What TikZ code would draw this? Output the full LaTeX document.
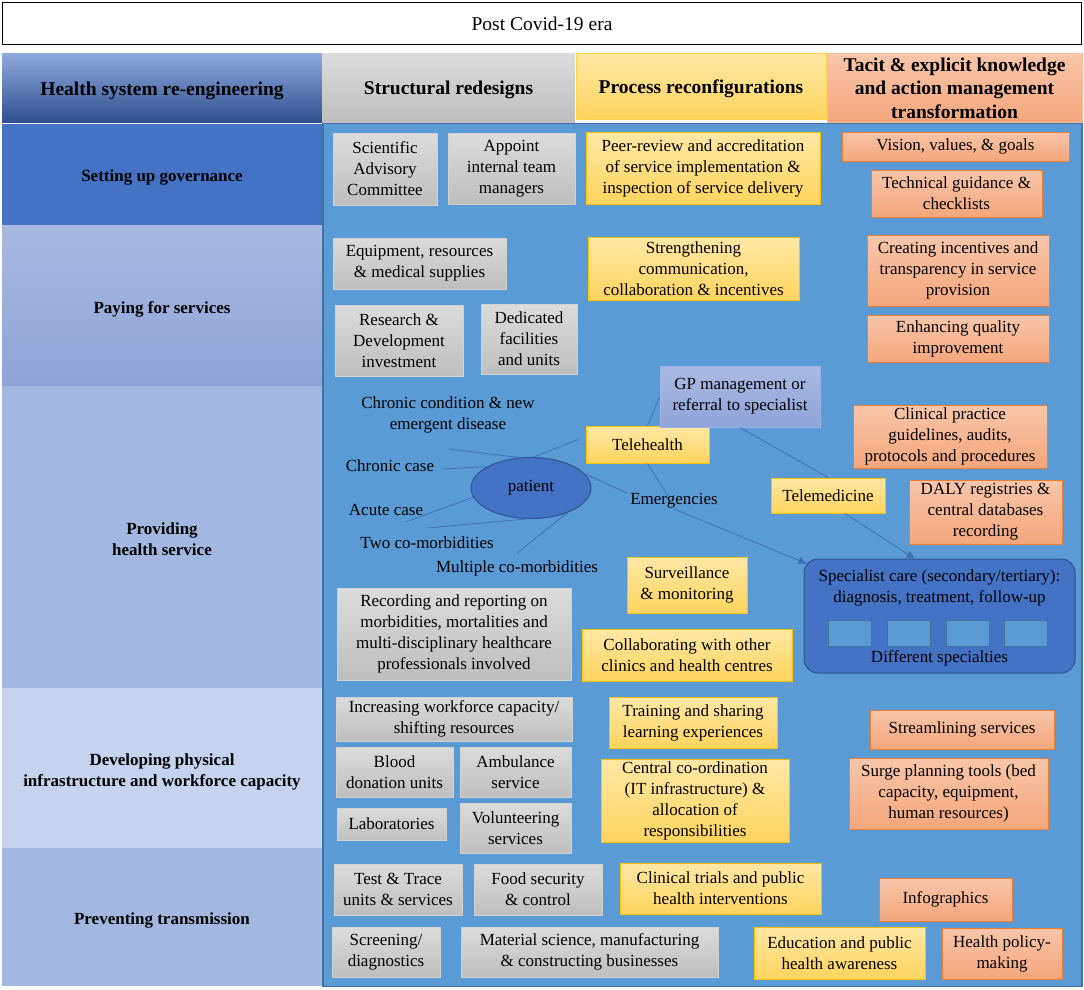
\documentclass[tikz,border=0pt]{standalone}
\usepackage{fontspec}
\setmainfont{Liberation Serif}
\usetikzlibrary{arrows.meta,shapes.geometric}
\definecolor{mainblue}{HTML}{5B9BD5}
\definecolor{maindark}{HTML}{41719C}
\definecolor{midblue}{HTML}{4472C4}
\definecolor{darkblue}{HTML}{2F528F}
\definecolor{graytop}{HTML}{DCDCDC}
\definecolor{graybot}{HTML}{BEBEBE}
\definecolor{grayedge}{HTML}{D2D2D2}
\definecolor{ytop}{HTML}{FFE8A6}
\definecolor{ybot}{HTML}{FFD45E}
\definecolor{yedge}{HTML}{FFC000}
\definecolor{stop}{HTML}{F8C6AA}
\definecolor{sbot}{HTML}{F4A67C}
\definecolor{sedge}{HTML}{ED7D31}
\definecolor{lavtop}{HTML}{AABAE3}
\definecolor{lavbot}{HTML}{8EA3D8}
\definecolor{lavedge}{HTML}{9DB3E6}
\definecolor{linecol}{HTML}{3E6CB8}
\definecolor{rowpay1}{HTML}{A9B8E0}
\definecolor{rowpay2}{HTML}{8EA4D8}
\definecolor{rowprov}{HTML}{A2B8E1}
\definecolor{rowdev}{HTML}{C5D3EE}
\definecolor{hdrtop}{HTML}{8FAADC}
\definecolor{hdrmid}{HTML}{5A80CA}
\definecolor{hdrbot}{HTML}{2E4F8E}
\begin{document}
\begin{tikzpicture}[x=1pt,y=-1pt,
  base/.style={font=\fontsize{17}{21}\selectfont, align=center, inner sep=0pt, line width=1pt},
  gbox/.style={base, draw=grayedge, top color=graytop, bottom color=graybot},
  ybox/.style={base, draw=yedge, top color=ytop, bottom color=ybot},
  sbox/.style={base, draw=sedge, top color=stop, bottom color=sbot},
  lbox/.style={base, draw=lavedge, top color=lavtop, bottom color=lavbot},
  lbl/.style={base},
  cell/.style={inner sep=0pt, minimum width=320pt},
  hdr/.style={font=\fontsize{19.5}{23.5}\selectfont\bfseries, align=center, inner sep=0pt},
  rowlbl/.style={font=\fontsize{17}{21}\selectfont\bfseries, align=center, inner sep=0pt},
  conn/.style={draw=linecol, line width=0.8pt},
  arr/.style={conn, -{Triangle[length=8pt,width=7pt]}},
  sq/.style={draw=maindark, fill=mainblue, line width=0.8pt, minimum width=43pt, minimum height=26pt, inner sep=0pt}
]
\useasboundingbox (0,0) rectangle (1084,989);

% top banner
\node[draw=black, line width=1.6pt, minimum width=1079pt, minimum height=42pt, font=\fontsize{19.5}{23}\selectfont, inner sep=0pt] (era) at (542,23.5) {Post Covid-19 era};

% header row backgrounds
\node[inner sep=0pt, minimum width=320pt, minimum height=69pt, top color=hdrtop, middle color=hdrmid, bottom color=hdrbot] (h0) at (162,88) {};
\node[inner sep=0pt, minimum width=253pt, minimum height=69pt, top color=graytop, bottom color=graybot] (h1) at (448.5,88) {};
\node[draw=yedge!70, line width=0.8pt, inner sep=0pt, minimum width=250pt, minimum height=66pt, top color=ytop, bottom color=ybot] (h2) at (701,86) {};
\node[draw=sedge!50, line width=0.8pt, inner sep=0pt, minimum width=255pt, minimum height=69pt, top color=stop, bottom color=sbot] (h3) at (954.5,88) {};
% header texts
\node[hdr] (h0t) at (162,90.5) {Health system re-engineering};
\node[hdr] (h1t) at (448.5,89.5) {Structural redesigns};
\node[hdr] (h2t) at (701,88.5) {Process reconfigurations};
\node[hdr] (h3t) at (954.5,88) {Tacit \& explicit knowledge\\and action management\\transformation};

% left row cells
\node[cell, fill=midblue, minimum height=101pt] (r1) at (162,174.5) {};
\node[cell, top color=rowpay1, bottom color=rowpay2, minimum height=161pt] (r2) at (162,305.5) {};
\node[cell, fill=rowprov, minimum height=302pt] (r3) at (162,537) {};
\node[cell, fill=rowdev, minimum height=160pt] (r4) at (162,768) {};
\node[cell, fill=rowprov, minimum height=138pt] (r5) at (162,917) {};
% row labels
\node[rowlbl] (r1t) at (162,177) {Setting up governance};
\node[rowlbl] (r2t) at (162,309) {Paying for services};
\node[rowlbl] (r3t) at (162,539) {Providing\\health service};
\node[rowlbl] (r4t) at (162,772) {Developing physical\\infrastructure and workforce capacity};
\node[rowlbl] (r5t) at (162,920) {Preventing transmission};

% main area
\node[fill=mainblue, draw=maindark, line width=1.4pt, minimum width=759pt, minimum height=863pt, inner sep=0pt] (main) at (702.5,555) {};

% structural redesigns (gray)
\node[gbox, minimum width=104pt, minimum height=72pt] (sac) at (385,169) {Scientific\\Advisory\\Committee};
\node[gbox, minimum width=127pt, minimum height=71pt] (appoint) at (511.5,168.5) {Appoint\\internal team\\managers};
\node[gbox, minimum width=173pt, minimum height=51pt] (equip) at (419.5,263.5) {Equipment, resources\\\& medical supplies};
\node[gbox, minimum width=128pt, minimum height=71pt] (rd) at (399,340.5) {Research \&\\Development\\investment};
\node[gbox, minimum width=96pt, minimum height=70pt] (ded) at (529,339) {Dedicated\\facilities\\and units};
\node[gbox, minimum width=234pt, minimum height=92pt] (rec) at (454,634) {Recording and reporting on\\morbidities, mortalities and\\multi-disciplinary healthcare\\professionals involved};
\node[gbox, minimum width=236pt, minimum height=44pt] (inc) at (454,719) {Increasing workforce capacity/\\shifting resources};
\node[gbox, minimum width=117pt, minimum height=50pt] (blood) at (394.5,772) {Blood\\donation units};
\node[gbox, minimum width=111pt, minimum height=50pt] (amb) at (515.5,772) {Ambulance\\service};
\node[gbox, minimum width=109pt, minimum height=32pt] (lab) at (391.5,824) {Laboratories};
\node[gbox, minimum width=111pt, minimum height=50pt] (vol) at (515.5,828) {Volunteering\\services};
\node[gbox, minimum width=128pt, minimum height=51pt] (tt) at (398,889.5) {Test \& Trace\\units \& services};
\node[gbox, minimum width=128pt, minimum height=51pt] (food) at (538,889.5) {Food security\\\& control};
\node[gbox, minimum width=108pt, minimum height=50pt] (scr) at (386,952) {Screening/\\diagnostics};
\node[gbox, minimum width=257pt, minimum height=50pt] (mat) at (589.5,952) {Material science, manufacturing\\\& constructing businesses};

% process reconfigurations (yellow)
\node[ybox, minimum width=234pt, minimum height=72pt] (peer) at (703,168) {Peer-review and accreditation\\of service implementation \&\\inspection of service delivery};
\node[ybox, minimum width=211pt, minimum height=63pt] (stren) at (693.5,268.5) {Strengthening\\communication,\\collaboration \& incentives};
\node[ybox, minimum width=123pt, minimum height=37pt] (tele) at (647.5,444.5) {Telehealth};
\node[ybox, minimum width=114pt, minimum height=35pt] (telemed) at (828,495.5) {Telemedicine};
\node[ybox, minimum width=120pt, minimum height=56pt] (surv) at (687,585) {Surveillance\\\& monitoring};
\node[ybox, minimum width=210pt, minimum height=52pt] (collab) at (687,655) {Collaborating with other\\clinics and health centres};
\node[ybox, minimum width=168pt, minimum height=51pt] (train) at (693,722.5) {Training and sharing\\learning experiences};
\node[ybox, minimum width=188pt, minimum height=83pt] (central) at (695,800.5) {Central co-ordination\\(IT infrastructure) \&\\allocation of\\responsibilities};
\node[ybox, minimum width=201pt, minimum height=51pt] (clin) at (720.5,888.5) {Clinical trials and public\\health interventions};
\node[ybox, minimum width=171pt, minimum height=52pt] (edu) at (839.5,953) {Education and public\\health awareness};

% GP
\node[lbox, minimum width=160pt, minimum height=61pt] (gp) at (740,396.5) {GP management or\\referral to specialist};

% tacit knowledge (salmon)
\node[sbox, minimum width=227pt, minimum height=29pt] (vision) at (955.5,146.5) {Vision, values, \& goals};
\node[sbox, minimum width=171pt, minimum height=47pt] (tech) at (956.5,193.5) {Technical guidance \&\\checklists};
\node[sbox, minimum width=182pt, minimum height=71pt] (create) at (958,270.5) {Creating incentives and\\transparency in service\\provision};
\node[sbox, minimum width=182pt, minimum height=47pt] (enh) at (958,338.5) {Enhancing quality\\improvement};
\node[sbox, minimum width=194pt, minimum height=63pt] (cpg) at (950,436.5) {Clinical practice\\guidelines, audits,\\protocols and procedures};
\node[sbox, minimum width=153pt, minimum height=64pt] (daly) at (985.5,512) {DALY registries \&\\central databases\\recording};
\node[sbox, minimum width=184pt, minimum height=39pt] (stream) at (962,729.5) {Streamlining services};
\node[sbox, minimum width=199pt, minimum height=71pt] (surge) at (948.5,793.5) {Surge planning tools (bed\\capacity, equipment,\\human resources)};
\node[sbox, minimum width=133pt, minimum height=43pt] (info) at (945.5,899.5) {Infographics};
\node[sbox, minimum width=120pt, minimum height=51pt] (policy) at (1002,953.5) {Health policy-\\making};

% specialist care
\node[draw=darkblue, fill=midblue, line width=1pt, rounded corners=14pt, minimum width=271pt, minimum height=114pt, inner sep=0pt] (spec) at (939.5,616) {};
\node[lbl] (spect) at (939.5,588) {Specialist care (secondary/tertiary):\\diagnosis, treatment, follow-up};
\node[sq] (sq1) at (849.5,633) {};
\node[sq] (sq2) at (908.5,633) {};
\node[sq] (sq3) at (967.5,633) {};
\node[sq] (sq4) at (1025.5,633) {};
\node[lbl] (diff) at (939.5,658) {Different specialties};

% patient and labels
\node[ellipse, draw=darkblue, fill=midblue, line width=1pt, minimum width=120pt, minimum height=61pt, inner sep=0pt, font=\fontsize{17}{21}\selectfont] (patient) at (531,488) {patient};
\node[lbl] (cnew) at (448,415) {Chronic condition \& new\\emergent disease};
\node[lbl] (chronic) at (390,466) {Chronic case};
\node[lbl] (acute) at (386,510) {Acute case};
\node[lbl] (two) at (427,543) {Two co-morbidities};
\node[lbl] (multi) at (517,568) {Multiple co-morbidities};
\node[lbl] (emerg) at (674,501) {Emergencies};

\coordinate (e1) at (449,449);
\coordinate (e2) at (443,469);
\coordinate (e3) at (406,522);
\coordinate (e4) at (427,528);
\coordinate (e5) at (517,553);

% connectors
\draw[conn] (patient.110) -- (e1);
\draw[conn] (patient.154) -- (e2);
\draw[conn] (patient.189) -- (e3);
\draw[conn] (patient.262) -- (e4);
\draw[conn] (patient.326) -- (e5);
\draw[conn] (patient.86) -- ([xshift=-7pt,yshift=5pt]tele.west);
\draw[conn] (patient.15) -- ([xshift=-3pt]emerg.north west);
\draw[conn] (tele.north) -- (gp.west);
\draw[conn] (tele.south) -- ([xshift=-6pt,yshift=-3pt]emerg.north);
\draw[conn] (gp.south) -- (telemed.north);
\draw[arr] (emerg.south) -- ([xshift=3pt,yshift=-5pt]spec.north west);
\draw[arr] ([xshift=17pt]telemed.south) -- ([xshift=-25pt]spec.north);
\end{tikzpicture}
\end{document}
